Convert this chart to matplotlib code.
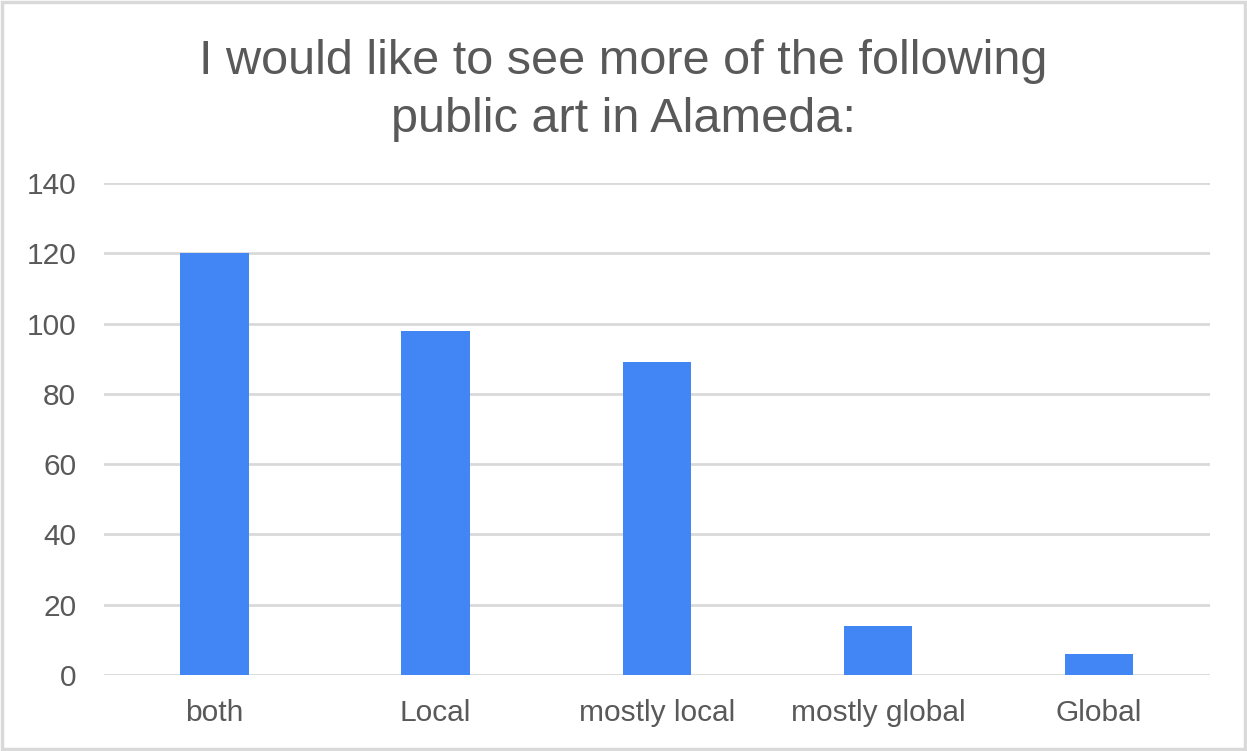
import matplotlib
matplotlib.use("Agg")
import matplotlib.pyplot as plt
from matplotlib.patches import Rectangle

categories = ["both", "Local", "mostly local", "mostly global", "Global"]
counts = [120, 98, 89, 14, 6]
yticks = [0, 20, 40, 60, 80, 100, 120, 140]

title = "I would like to see more of the following\npublic art in Alameda:"

bar_color = "#4285F4"
text_color = "#595959"
grid_color = "#D9D9D9"

plt.rcParams['font.family'] = ['Liberation Sans', 'DejaVu Sans']

fig = plt.figure(figsize=(12.47, 7.51), dpi=100)
ax = fig.add_axes([0.0834, 0.1012, 0.8866, 0.6551])

x = list(range(len(categories)))
ax.bar(x, counts, width=0.31, color=bar_color, zorder=3)

ax.set_xlim(-0.5, len(categories) - 0.5)
ax.set_ylim(0, 140)
ax.set_yticks(yticks)
ax.set_xticks(x)
ax.set_xticklabels(categories)
ax.tick_params(axis='both', length=0, labelsize=21.5, labelcolor=text_color)
ax.tick_params(axis='y', pad=20)
ax.tick_params(axis='x', pad=17)

ax.grid(axis='y', color=grid_color, linewidth=2, zorder=0)
for s in ax.spines.values():
    s.set_visible(False)

fig.text(0.5, 0.948, title, ha='center', va='top', fontsize=35,
         color=text_color, linespacing=1.36)

# light border around the chart
fig.patches.append(Rectangle((0.002, 0.003), 0.996, 0.994, transform=fig.transFigure,
                             fill=False, edgecolor=grid_color, linewidth=2.5))

fig.savefig("out.png", dpi=100)
